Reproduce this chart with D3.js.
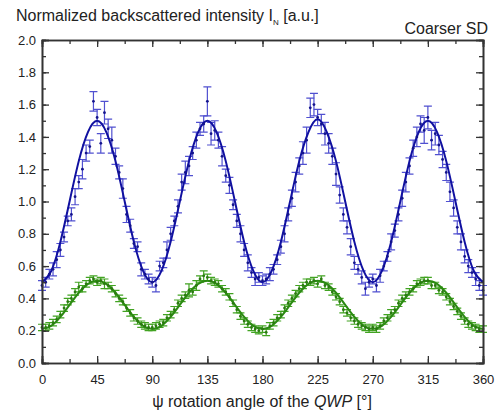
<!DOCTYPE html>
<html>
<head>
<meta charset="utf-8">
<script src="https://cdn.jsdelivr.net/npm/d3@7"></script>
<style>
  body { margin: 0; background: #fff; }
  svg { font-family: "Liberation Sans", Arial, sans-serif; }
</style>
</head>
<body>
<svg id="chart" width="499" height="416"></svg>
<script>
// angles measured every 3 degrees
var angles = d3.range(0, 361, 3);

var blueVals = [
  0.48,0.50,0.55,0.58,0.64,0.70,0.78,0.88,0.92,1.03,1.12,1.20,1.30,1.34,1.62,1.52,1.36,1.55,1.45,1.38,1.28,1.18,1.08,0.92,0.85,0.74,0.72,0.58,0.55,0.52,
  0.50,0.48,0.60,0.62,0.70,0.80,0.88,0.97,1.12,1.18,1.22,1.30,1.38,1.45,1.48,1.62,1.42,1.44,1.38,1.28,1.16,1.10,0.98,0.88,0.80,0.70,0.62,0.56,0.52,0.53,
  0.51,0.52,0.55,0.58,0.64,0.72,0.80,0.92,1.02,1.12,1.22,1.30,1.38,1.58,1.60,1.52,1.48,1.42,1.36,1.28,1.17,1.04,0.92,0.84,0.72,0.62,0.58,0.53,0.46,0.50,
  0.52,0.48,0.54,0.60,0.66,0.75,0.82,0.92,1.02,1.12,1.22,1.33,1.40,1.48,1.44,1.52,1.38,1.42,1.35,1.26,1.18,1.06,0.96,0.84,0.75,0.66,0.60,0.56,0.52,0.48,
  0.45
];
var blueErr = [
  0.03,0.03,0.03,0.04,0.05,0.04,0.03,0.03,0.04,0.05,0.04,0.06,0.05,0.04,0.06,0.05,0.06,0.07,0.06,0.08,0.05,0.04,0.06,0.05,0.04,0.03,0.03,0.04,0.03,0.03,
  0.03,0.04,0.03,0.03,0.05,0.04,0.03,0.04,0.05,0.07,0.06,0.04,0.05,0.04,0.05,0.09,0.07,0.06,0.05,0.06,0.04,0.05,0.03,0.04,0.05,0.04,0.05,0.03,0.04,0.03,
  0.03,0.03,0.04,0.03,0.03,0.04,0.05,0.04,0.05,0.06,0.05,0.07,0.08,0.06,0.07,0.05,0.06,0.07,0.06,0.05,0.07,0.05,0.04,0.04,0.05,0.04,0.03,0.04,0.04,0.03,
  0.03,0.04,0.04,0.03,0.03,0.05,0.04,0.04,0.05,0.06,0.05,0.05,0.06,0.05,0.08,0.07,0.06,0.07,0.06,0.05,0.05,0.06,0.05,0.04,0.05,0.04,0.04,0.03,0.04,0.03,
  0.03
];

var greenVals = [
  0.22,0.22,0.23,0.25,0.27,0.30,0.34,0.38,0.40,0.44,0.47,0.46,0.49,0.51,0.52,0.50,0.51,0.49,0.48,0.46,0.43,0.40,0.38,0.34,0.31,0.28,0.26,0.24,0.23,0.22,
  0.22,0.23,0.24,0.25,0.28,0.30,0.33,0.37,0.40,0.42,0.45,0.44,0.48,0.52,0.54,0.53,0.51,0.50,0.49,0.46,0.44,0.41,0.37,0.33,0.29,0.26,0.24,0.22,0.21,0.20,
  0.21,0.19,0.23,0.25,0.28,0.30,0.34,0.37,0.40,0.43,0.46,0.48,0.50,0.50,0.51,0.49,0.52,0.48,0.47,0.44,0.41,0.38,0.33,0.31,0.28,0.26,0.24,0.23,0.22,0.21,
  0.22,0.21,0.23,0.26,0.28,0.31,0.33,0.37,0.40,0.42,0.44,0.46,0.49,0.50,0.51,0.51,0.48,0.48,0.45,0.44,0.41,0.38,0.35,0.32,0.29,0.26,0.24,0.23,0.22,0.21,
  0.21
];
var greenErr = [
  0.02,0.02,0.02,0.02,0.02,0.02,0.02,0.02,0.02,0.02,0.03,0.02,0.02,0.02,0.02,0.02,0.02,0.03,0.02,0.02,0.02,0.02,0.02,0.02,0.02,0.02,0.02,0.02,0.02,0.02,
  0.02,0.02,0.02,0.02,0.02,0.02,0.02,0.02,0.02,0.02,0.04,0.02,0.03,0.02,0.03,0.02,0.02,0.02,0.02,0.02,0.02,0.02,0.02,0.02,0.02,0.02,0.02,0.02,0.02,0.02,
  0.02,0.02,0.02,0.02,0.02,0.02,0.02,0.02,0.02,0.02,0.02,0.02,0.02,0.02,0.02,0.02,0.02,0.02,0.02,0.02,0.02,0.02,0.02,0.02,0.02,0.02,0.02,0.02,0.02,0.02,
  0.02,0.02,0.02,0.02,0.02,0.02,0.02,0.02,0.02,0.02,0.02,0.02,0.02,0.02,0.02,0.02,0.02,0.02,0.02,0.02,0.02,0.02,0.02,0.02,0.02,0.02,0.02,0.02,0.02,0.02,
  0.02
];

// fitted curves, sampled every 7.5 degrees
var fitAngles = d3.range(0, 360.1, 7.5);
var blueFit = [
  0.50,0.57,0.75,1.00,1.25,1.43,1.50,1.43,1.25,1.00,0.75,0.57,
  0.50,0.57,0.75,1.00,1.25,1.43,1.50,1.43,1.25,1.00,0.75,0.57,
  0.50,0.57,0.75,1.00,1.25,1.43,1.51,1.43,1.25,1.00,0.75,0.57,
  0.50,0.57,0.75,1.00,1.25,1.43,1.50,1.43,1.25,1.00,0.75,0.57,
  0.50
];
var greenFit = [
  0.21,0.23,0.285,0.36,0.435,0.49,0.51,0.49,0.435,0.36,0.285,0.23,
  0.21,0.23,0.285,0.36,0.435,0.49,0.51,0.49,0.435,0.36,0.285,0.23,
  0.21,0.23,0.285,0.36,0.435,0.49,0.51,0.49,0.435,0.36,0.285,0.23,
  0.21,0.23,0.285,0.36,0.435,0.49,0.51,0.49,0.435,0.36,0.285,0.23,
  0.21
];

var xTicks = [0, 45, 90, 135, 180, 225, 270, 315, 360];
var yTicks = [0.0, 0.2, 0.4, 0.6, 0.8, 1.0, 1.2, 1.4, 1.6, 1.8, 2.0];

var svg = d3.select('#chart'),
    pLeft = 42, pRight = 483, pTop = 40, pBottom = 363;

var x = d3.scaleLinear().domain([0, 360]).range([pLeft, pRight]);
var y = d3.scaleLinear().domain([0, 2]).range([pBottom, pTop]);

var plot = svg.append('g');

function drawSeries(vals, errs, fit, barColor, dotColor, lineColor) {
  var g = plot.append('g');
  var pts = angles.map(function(a, i) { return {a: a, v: vals[i], e: errs[i]}; });

  g.selectAll('.eb').data(pts).enter().append('path')
    .attr('d', function(d) {
      var cx = x(d.a), y1 = y(d.v + d.e), y2 = y(d.v - d.e);
      return 'M' + cx + ',' + y1 + 'V' + y2 +
             'M' + (cx - 4) + ',' + y1 + 'H' + (cx + 4) +
             'M' + (cx - 4) + ',' + y2 + 'H' + (cx + 4);
    })
    .attr('fill', 'none')
    .attr('stroke', barColor)
    .attr('stroke-width', 1.2);

  var line = d3.line()
    .x(function(d, i) { return x(fitAngles[i]); })
    .y(function(d) { return y(d); })
    .curve(d3.curveNatural);
  g.append('path')
    .datum(fit)
    .attr('d', line)
    .attr('fill', 'none')
    .attr('stroke', lineColor)
    .attr('stroke-width', 2);

  g.selectAll('.dot').data(pts).enter().append('circle')
    .attr('cx', function(d) { return x(d.a); })
    .attr('cy', function(d) { return y(d.v); })
    .attr('r', 1.4)
    .attr('fill', dotColor);
}

drawSeries(greenVals, greenErr, greenFit, '#42a322', '#2a7a10', '#2b8a12');
drawSeries(blueVals, blueErr, blueFit, '#5050d0', '#14148c', '#1010a0');

// axes: ticks point inward on all four sides
var axisColor = '#333';
var xMinor = d3.range(0, 361, 22.5);
var yMinor = d3.range(0, 2.01, 0.1);

svg.append('g').attr('transform', 'translate(0,' + pBottom + ')')
  .call(d3.axisBottom(x).tickValues(xMinor).tickSize(-4).tickFormat(''));
svg.append('g').attr('transform', 'translate(0,' + pBottom + ')')
  .call(d3.axisBottom(x).tickValues(xTicks).tickSize(-7).tickPadding(12).tickFormat(d3.format('d')));
svg.append('g').attr('transform', 'translate(0,' + pTop + ')')
  .call(d3.axisTop(x).tickValues(xMinor).tickSize(-4).tickFormat(''));
svg.append('g').attr('transform', 'translate(0,' + pTop + ')')
  .call(d3.axisTop(x).tickValues(xTicks).tickSize(-7).tickFormat(''));

svg.append('g').attr('transform', 'translate(' + pLeft + ',0)')
  .call(d3.axisLeft(y).tickValues(yMinor).tickSize(-4).tickFormat(''));
svg.append('g').attr('transform', 'translate(' + pLeft + ',0)')
  .call(d3.axisLeft(y).tickValues(yTicks).tickSize(-7).tickPadding(6).tickFormat(d3.format('.1f')));
svg.append('g').attr('transform', 'translate(' + pRight + ',0)')
  .call(d3.axisRight(y).tickValues(yMinor).tickSize(-4).tickFormat(''));
svg.append('g').attr('transform', 'translate(' + pRight + ',0)')
  .call(d3.axisRight(y).tickValues(yTicks).tickSize(-7).tickFormat(''));

svg.selectAll('.domain').attr('stroke', axisColor).attr('stroke-width', 1.6);
svg.selectAll('.tick line').attr('stroke', axisColor).attr('stroke-width', 1.3);
svg.selectAll('.tick text').attr('font-size', 13).attr('fill', '#222')
  .attr('font-family', '"Liberation Sans", Arial, sans-serif');

// texts
var title = svg.append('text').attr('x', 16).attr('y', 21)
  .attr('font-size', 16).attr('fill', '#222');
title.append('tspan').text('Normalized backscattered intensity I');
title.append('tspan').attr('font-size', 8).attr('dy', 4).text('N');
title.append('tspan').attr('dy', -4).text(' [a.u.]');

svg.append('text').attr('x', 488).attr('y', 34)
  .attr('text-anchor', 'end').attr('font-size', 16).attr('fill', '#222')
  .text('Coarser SD');

var xl = svg.append('text').attr('x', 262).attr('y', 407)
  .attr('text-anchor', 'middle').attr('font-size', 16).attr('fill', '#222');
xl.append('tspan').text('\u03c8 rotation angle of the ');
xl.append('tspan').attr('font-style', 'italic').text('QWP');
xl.append('tspan').text(' [\u00b0]');
</script>
</body>
</html>
